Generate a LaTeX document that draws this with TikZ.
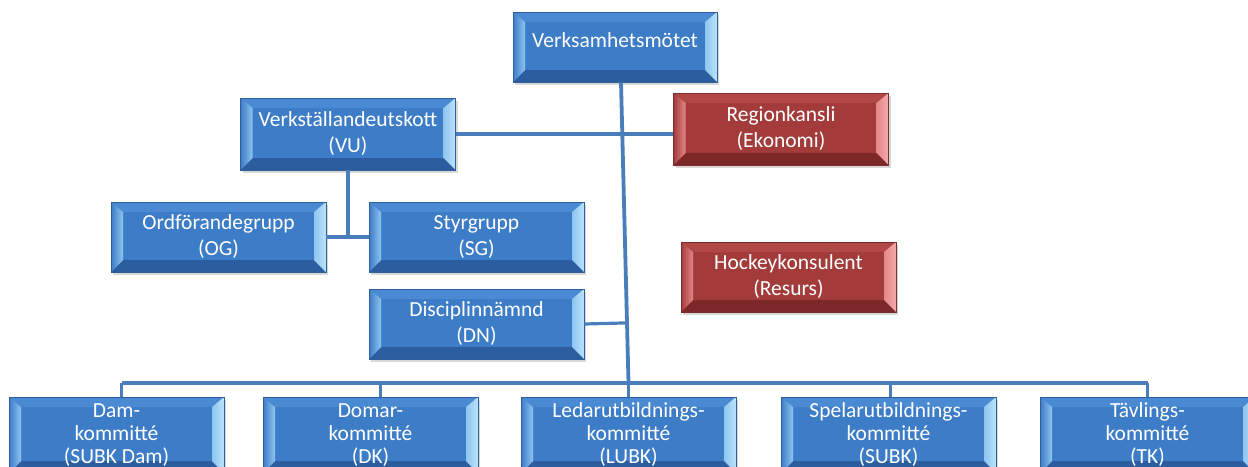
\documentclass[tikz,border=0pt]{standalone}
\usepackage{fontspec}
\setmainfont{Carlito}
\usepackage{tikz}
\usetikzlibrary{calc,shadows}
\definecolor{blu}{HTML}{3D7CC7}
\definecolor{blutop}{HTML}{4A8AD3}
\definecolor{blubot}{HTML}{2C5E9F}
\definecolor{bluin}{HTML}{8EC4F0}
\definecolor{bluout}{HTML}{B9E3FB}
\definecolor{bluedge}{HTML}{2F5E98}
\definecolor{rd}{HTML}{A33B3B}
\definecolor{rdtop}{HTML}{B04848}
\definecolor{rdbot}{HTML}{7D2828}
\definecolor{rdin}{HTML}{E48787}
\definecolor{rdout}{HTML}{F3AAAA}
\definecolor{rdedge}{HTML}{7A2B2B}
\definecolor{conn}{HTML}{4A7EBB}
\tikzset{
  bev/.style n args={5}{fill=#1, path picture={
      \coordinate (sw) at (path picture bounding box.south west);
      \coordinate (ne) at (path picture bounding box.north east);
      \coordinate (nw) at (sw |- ne);
      \coordinate (se) at (ne |- sw);
      \fill[#2] (nw) -- (ne) -- ($(ne)+(-12pt,-10pt)$) -- ($(nw)+(12pt,-10pt)$) -- cycle;
      \fill[#3] (sw) -- (se) -- ($(se)+(-12pt,12pt)$) -- ($(sw)+(12pt,12pt)$) -- cycle;
      \shade[left color=#1, right color=#4] (sw) -- (nw) -- ($(nw)+(12pt,-10pt)$) -- ($(sw)+(12pt,12pt)$) -- cycle;
      \shade[left color=#4, right color=#5] (se) -- (ne) -- ($(ne)+(-12pt,-10pt)$) -- ($(se)+(-12pt,12pt)$) -- cycle;
  }},
  blk/.style   ={rectangle, align=center, inner sep=0pt, text=white,
                 minimum width=215pt, minimum height=70pt, line width=0.8pt,
                 font=\fontsize{21.5}{26}\selectfont,
                 drop shadow={opacity=0.3, shadow xshift=2pt, shadow yshift=-3pt},
                 draw=bluedge, bev={blu}{blutop}{blubot}{bluin}{bluout}},
  blkred/.style={blk, draw=rdedge, bev={rd}{rdtop}{rdbot}{rdin}{rdout}},
  blklow/.style={blk, minimum height=76pt, font=\fontsize{21.5}{23}\selectfont},
  ln/.style    ={draw=conn, line width=3.2pt},
}
\begin{document}
\begin{tikzpicture}[x=1pt,y=-1pt]
\useasboundingbox[fill=white] (0,0) rectangle (1248,466);
\coordinate (bus) at (0,383);
\node[blk, minimum width=204pt, text depth=14pt] (vm) at (615,47) {Verksamhetsmötet};
\node[blk, minimum height=72pt] (vu) at (348,134) {Verkställandeutskott\\(VU)};
\node[blkred, minimum height=72pt] (rk) at (781,129) {Regionkansli\\(Ekonomi)};
\node[blk] (og) at (218.5,237) {Ordförandegrupp\\(OG)};
\node[blk] (sg) at (476.5,237) {Styrgrupp\\(SG)};
\node[blkred] (hk) at (788.5,277) {Hockeykonsulent\\(Resurs)};
\node[blk] (dn) at (476.5,324) {Disciplinnämnd\\(DN)};
\node[blklow] (dam) at (116.5,435) {Dam-\\kommitté\\(SUBK Dam)};
\node[blklow] (domar) at (370.5,435) {Domar-\\kommitté\\(DK)};
\node[blklow] (lubk) at (628.5,435) {Ledarutbildnings-\\kommitté\\(LUBK)};
\node[blklow] (subk) at (888.5,435) {Spelarutbildnings-\\kommitté\\(SUBK)};
\node[blklow] (tk) at (1147.5,435) {Tävlings-\\kommitté\\(TK)};
\coordinate (tt) at ($(vm.south)+(6pt,0)$);
\coordinate (tb) at (lubk.north |- bus);
\begin{scope}[on background layer/.try]
\draw[ln] (vu.east) -- (vu.east -| rk.west);
\draw[ln, line width=3.8pt] (tt) -- (tb);
\draw[ln] (vu.south) -- (vu.south |- og.east);
\draw[ln] (og.east) -- (og.east -| sg.west);
\draw[ln] (dn.east) -- ($(tt)!0.8!(tb)$);
\draw[ln] ($(dam.north |- bus)+(5pt,0)$) -- ($(tk.north |- bus)+(0pt,0)$);
\foreach \n/\dx in {dam/5,domar/10,lubk/0,subk/2,tk/0}{
  \draw[ln] ($(\n.north)+(\dx pt,0)$) -- ($(\n.north |- bus)+(\dx pt,0)$);}
\end{scope}
\end{tikzpicture}
\end{document}
